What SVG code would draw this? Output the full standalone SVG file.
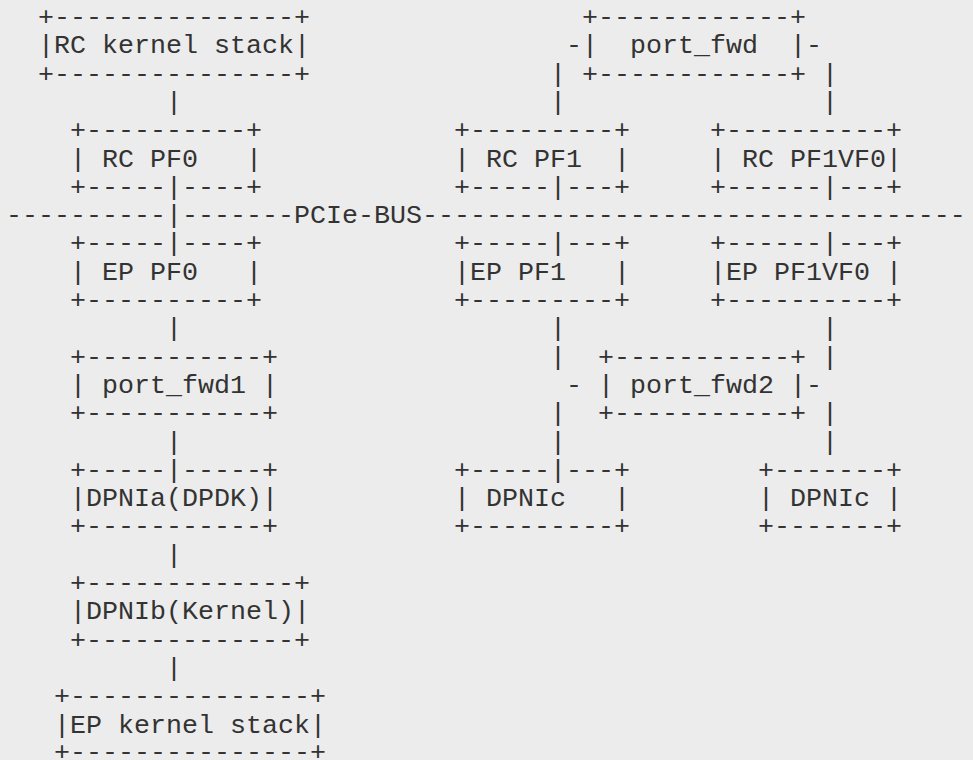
<svg xmlns="http://www.w3.org/2000/svg" width="973" height="760" viewBox="0 0 973 760">
<style>
text{font-family:"Liberation Mono","Courier New",monospace;font-size:26.67px;fill:#333333;white-space:pre}
</style>
<rect x="0" y="0" width="973" height="760" fill="#ececec"/>
<g id="connectors" xml:space="preserve">
<text x="566" y="53.3">-</text><text x="806" y="53.3">-</text>
<text x="550" y="81.6">|</text><text x="822" y="81.6">|</text>
<text x="166" y="109.9">|</text><text x="550" y="109.9">|</text><text x="822" y="109.9">|</text>
<text x="6" y="223.1">----------|-------PCIe-BUS----------------------------------</text>
<text x="166" y="336.3">|</text><text x="550" y="336.3">|</text><text x="822" y="336.3">|</text>
<text x="550" y="364.6">|</text><text x="822" y="364.6">|</text>
<text x="566" y="392.9">-</text><text x="806" y="392.9">-</text>
<text x="550" y="421.2">|</text><text x="822" y="421.2">|</text>
<text x="166" y="449.5">|</text><text x="550" y="449.5">|</text><text x="822" y="449.5">|</text>
<text x="166" y="562.7">|</text>
<text x="166" y="675.9">|</text>
</g>
<g id="rc_kernel_stack" xml:space="preserve"><text x="38" y="25">+---------------+</text><text x="38" y="53.3">|RC kernel stack|</text><text x="38" y="81.6">+---------------+</text></g>
<g id="port_fwd" xml:space="preserve"><text x="582" y="25">+------------+</text><text x="582" y="53.3">|  port_fwd  |</text><text x="582" y="81.6">+------------+</text></g>
<g id="rc_pf0" xml:space="preserve"><text x="70" y="138.2">+----------+</text><text x="70" y="166.5">| RC PF0   |</text><text x="70" y="194.8">+-----|----+</text></g>
<g id="rc_pf1" xml:space="preserve"><text x="454" y="138.2">+---------+</text><text x="454" y="166.5">| RC PF1  |</text><text x="454" y="194.8">+-----|---+</text></g>
<g id="rc_pf1vf0" xml:space="preserve"><text x="710" y="138.2">+----------+</text><text x="710" y="166.5">| RC PF1VF0|</text><text x="710" y="194.8">+------|---+</text></g>
<g id="ep_pf0" xml:space="preserve"><text x="70" y="251.4">+-----|----+</text><text x="70" y="279.7">| EP PF0   |</text><text x="70" y="308">+----------+</text></g>
<g id="ep_pf1" xml:space="preserve"><text x="454" y="251.4">+-----|---+</text><text x="454" y="279.7">|EP PF1   |</text><text x="454" y="308">+---------+</text></g>
<g id="ep_pf1vf0" xml:space="preserve"><text x="710" y="251.4">+------|---+</text><text x="710" y="279.7">|EP PF1VF0 |</text><text x="710" y="308">+----------+</text></g>
<g id="port_fwd1" xml:space="preserve"><text x="70" y="364.6">+-----------+</text><text x="70" y="392.9">| port_fwd1 |</text><text x="70" y="421.2">+-----------+</text></g>
<g id="port_fwd2" xml:space="preserve"><text x="598" y="364.6">+-----------+</text><text x="598" y="392.9">| port_fwd2 |</text><text x="598" y="421.2">+-----------+</text></g>
<g id="dpnia" xml:space="preserve"><text x="70" y="477.8">+-----|-----+</text><text x="70" y="506.1">|DPNIa(DPDK)|</text><text x="70" y="534.4">+-----------+</text></g>
<g id="dpnic_1" xml:space="preserve"><text x="454" y="477.8">+-----|---+</text><text x="454" y="506.1">| DPNIc   |</text><text x="454" y="534.4">+---------+</text></g>
<g id="dpnic_2" xml:space="preserve"><text x="758" y="477.8">+-------+</text><text x="758" y="506.1">| DPNIc |</text><text x="758" y="534.4">+-------+</text></g>
<g id="dpnib" xml:space="preserve"><text x="70" y="591">+-------------+</text><text x="70" y="619.3">|DPNIb(Kernel)|</text><text x="70" y="647.6">+-------------+</text></g>
<g id="ep_kernel_stack" xml:space="preserve"><text x="54" y="704.2">+---------------+</text><text x="54" y="732.5">|EP kernel stack|</text><text x="54" y="759.5">+---------------+</text></g>
</svg>
